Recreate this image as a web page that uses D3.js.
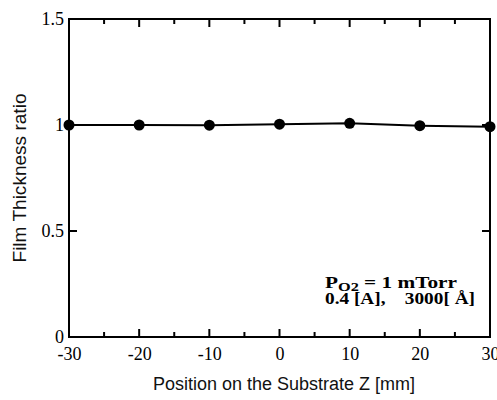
<!DOCTYPE html>
<html>
<head>
<meta charset="utf-8">
<script src="https://d3js.org/d3.v7.min.js"></script>
<style>
  body { margin: 0; background: white; }
  .tick text { font-family: "Liberation Serif", "Times New Roman", serif; font-size: 18px; fill: #000; }
  .title { font-family: "Liberation Sans", Arial, sans-serif; font-size: 18px; fill: #111; }
  .note { font-family: "Liberation Serif", "Times New Roman", serif; font-size: 17px; font-weight: bold; fill: #000; }
</style>
</head>
<body>
<script>
// data
var positions = [-30, -20, -10, 0, 10, 20, 30];
var ratios = [1.0, 1.0, 0.999, 1.004, 1.008, 0.997, 0.992];
var xTicks = [-30, -20, -10, 0, 10, 20, 30];
var xMinor = [-25, -15, -5, 5, 15, 25];
var yTicks = [0, 0.5, 1, 1.5];

var width = 497, height = 400;
var plotL = 69, plotR = 490, plotT = 19, plotB = 337;

var svg = d3.select("body").append("svg")
  .attr("width", width).attr("height", height);

var x = d3.scaleLinear().domain([-30, 30]).range([plotL, plotR]);
var y = d3.scaleLinear().domain([0, 1.5]).range([plotB, plotT]);

// plain hyphen for negatives, like the original
var fmt = function(d) { return String(d); };

// tick labels from d3 axes (tick lines drawn separately below)
var xa = svg.append("g").attr("transform", "translate(0," + plotB + ")")
  .call(d3.axisBottom(x).tickValues(xTicks).tickSize(0).tickFormat(fmt));
xa.selectAll(".tick text").attr("y", 10).attr("dy", "0.71em");

var ya = svg.append("g").attr("transform", "translate(" + plotL + ",0)")
  .call(d3.axisLeft(y).tickValues(yTicks).tickSize(0).tickFormat(fmt));
ya.selectAll(".tick text").attr("x", -5);

svg.selectAll(".domain").remove();

// inward tick marks on all four sides
var ticks = svg.append("g").attr("stroke", "#000").attr("stroke-width", 2);
function xMarks(vals, len) {
  ticks.selectAll(null).data(vals).enter().append("line")
    .attr("x1", function(d) { return x(d); }).attr("x2", function(d) { return x(d); })
    .attr("y1", plotB).attr("y2", plotB - len);
  ticks.selectAll(null).data(vals).enter().append("line")
    .attr("x1", function(d) { return x(d); }).attr("x2", function(d) { return x(d); })
    .attr("y1", plotT).attr("y2", plotT + len);
}
xMarks(xTicks, 8);
xMarks(xMinor, 5);
ticks.selectAll(null).data(yTicks).enter().append("line")
  .attr("y1", function(d) { return y(d); }).attr("y2", function(d) { return y(d); })
  .attr("x1", plotL).attr("x2", plotL + 8);
ticks.selectAll(null).data(yTicks).enter().append("line")
  .attr("y1", function(d) { return y(d); }).attr("y2", function(d) { return y(d); })
  .attr("x1", plotR).attr("x2", plotR - 8);

// frame
svg.append("rect")
  .attr("x", plotL).attr("y", plotT)
  .attr("width", plotR - plotL).attr("height", plotB - plotT)
  .attr("fill", "none").attr("stroke", "#000").attr("stroke-width", 2);

// line and markers
var line = d3.line().x(function(d, i) { return x(positions[i]); }).y(function(d) { return y(d); });
svg.append("path").datum(ratios)
  .attr("d", line).attr("fill", "none").attr("stroke", "#000").attr("stroke-width", 2);

svg.selectAll("circle").data(ratios).enter().append("circle")
  .attr("cx", function(d, i) { return x(positions[i]); })
  .attr("cy", function(d) { return y(d); })
  .attr("r", 5.5).attr("fill", "#000");

// axis titles
svg.append("text").attr("class", "title")
  .attr("x", 284).attr("y", 390)
  .attr("text-anchor", "middle")
  .text("Position on the Substrate Z [mm]");

svg.append("text").attr("class", "title")
  .attr("transform", "translate(26,178) rotate(-90)")
  .attr("text-anchor", "middle")
  .attr("textLength", 169).attr("lengthAdjust", "spacingAndGlyphs")
  .text("Film Thickness ratio");

// annotation
var n1 = svg.append("text").attr("class", "note").attr("x", 325).attr("y", 288)
  .attr("textLength", 132).attr("lengthAdjust", "spacingAndGlyphs");
n1.append("tspan").text("P");
n1.append("tspan").attr("font-size", "13px").attr("dy", 3).text("O2");
n1.append("tspan").attr("dy", -3).text(" = 1 mTorr");

svg.append("text").attr("class", "note").attr("x", 325).attr("y", 304)
  .attr("xml:space", "preserve")
  .attr("textLength", 150).attr("lengthAdjust", "spacingAndGlyphs")
  .text("0.4 [A],    3000[ Å]");
</script>
</body>
</html>
